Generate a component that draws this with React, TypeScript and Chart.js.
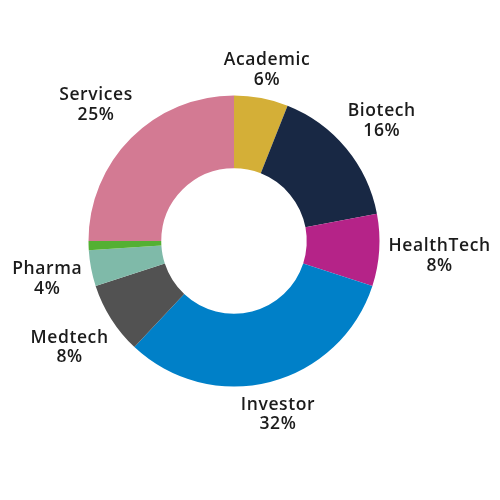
import React, { useEffect, useRef } from "react";
import { Chart, registerables } from "chart.js";

Chart.register(...registerables);

const categories = ["Academic", "Biotech", "HealthTech", "Investor", "Medtech", "Pharma", "Other", "Services"];
const shares = [6, 16, 8, 32, 8, 4, 1, 25];
const sliceColors = ["#D4AF37", "#182844", "#B52388", "#0080C8", "#525252", "#7FBAA9", "#54B033", "#D37A93"];

const FONT_SIZE = 17.5;

const outsideLabels = {
  id: "outsideLabels",
  afterDatasetsDraw(chart: any) {
    const ctx = chart.ctx as CanvasRenderingContext2D;
    const meta = chart.getDatasetMeta(0);
    const data = chart.data.datasets[0].data as number[];
    ctx.save();
    ctx.font = `600 ${FONT_SIZE}px "Open Sans"`;
    (ctx as any).letterSpacing = "0.6px";
    ctx.fillStyle = "#1b1b1b";
    ctx.textAlign = "center";
    ctx.textBaseline = "alphabetic";
    const capHalf = FONT_SIZE * 0.357;
    meta.data.forEach((arc: any, i: number) => {
      const v = data[i];
      if (v < 2) return;
      const { x, y, startAngle, endAngle, outerRadius } = arc.getProps(
        ["x", "y", "startAngle", "endAngle", "outerRadius"],
        true
      );
      const mid = (startAngle + endAngle) / 2;
      const c = Math.cos(mid);
      const s = Math.sin(mid);
      const name = chart.data.labels[i] as string;
      const pct = `${v}%`;
      const w = Math.max(ctx.measureText(name).width, ctx.measureText(pct).width);
      const hw = w / 2;
      const hh = 20;
      const m = Math.max(Math.abs(c), Math.abs(s));
      const d = (hw * c * c + hh * s * s) / m;
      const r = outerRadius + 9.5 + d;
      const lx = x + c * r;
      const ly = y + s * r + 1;
      ctx.fillText(name, lx, ly - 9.8 + capHalf);
      ctx.fillText(pct, lx, ly + 9.8 + capHalf);
    });
    ctx.restore();
  },
};

export default function App() {
  const ref = useRef<HTMLCanvasElement | null>(null);
  useEffect(() => {
    if (!ref.current) return;
    const chart = new Chart(ref.current, {
      type: "doughnut",
      data: {
        labels: categories,
        datasets: [
          {
            data: shares,
            backgroundColor: sliceColors,
            borderWidth: 0,
            hoverOffset: 0,
          },
        ],
      },
      options: {
        animation: false,
        responsive: true,
        maintainAspectRatio: false,
        cutout: "50%",
        layout: { padding: { left: 88.5, top: 95.5, right: 120.5, bottom: 113.5 } },
        plugins: {
          legend: { display: false },
          tooltip: { enabled: false },
        },
      },
      plugins: [outsideLabels],
    });
    return () => chart.destroy();
  }, []);
  return (
    <div style={{ position: "absolute", left: 0, top: 0, width: 500, height: 500, background: "#fff" }}>
      <canvas ref={ref} />
    </div>
  );
}
